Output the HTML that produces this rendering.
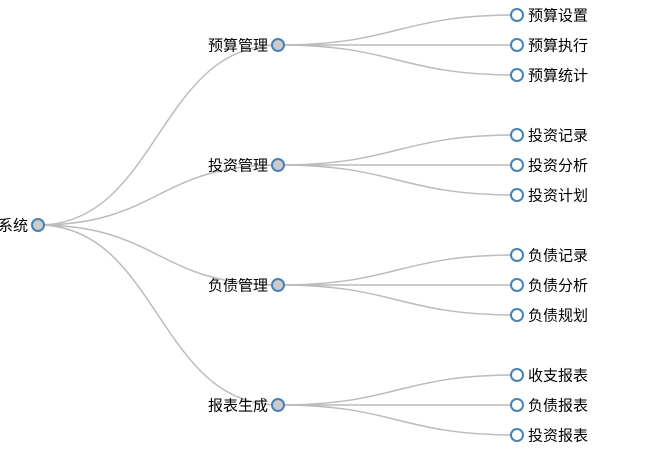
<!DOCTYPE html>
<html><head><meta charset="utf-8"><style>
html,body{margin:0;padding:0;background:#fff;}
svg{display:block;}
text{font-family:"Liberation Sans","Noto Sans CJK SC",sans-serif;font-size:15px;fill:#000;}
.l{fill:none;stroke:#bbb;stroke-width:1.5px;}
.n{stroke:steelblue;stroke-width:2px;}
</style></head><body>
<svg width="668" height="455" viewBox="0 0 668 455">
<g>
<path class="l" d="M38,225C158,225 158,45 278,45"/>
<path class="l" d="M38,225C158,225 158,165 278,165"/>
<path class="l" d="M38,225C158,225 158,285 278,285"/>
<path class="l" d="M38,225C158,225 158,405 278,405"/>
<path class="l" d="M278,45C397.5,45 397.5,15 517,15"/>
<path class="l" d="M278,45C397.5,45 397.5,45 517,45"/>
<path class="l" d="M278,45C397.5,45 397.5,75 517,75"/>
<path class="l" d="M278,165C397.5,165 397.5,135 517,135"/>
<path class="l" d="M278,165C397.5,165 397.5,165 517,165"/>
<path class="l" d="M278,165C397.5,165 397.5,195 517,195"/>
<path class="l" d="M278,285C397.5,285 397.5,255 517,255"/>
<path class="l" d="M278,285C397.5,285 397.5,285 517,285"/>
<path class="l" d="M278,285C397.5,285 397.5,315 517,315"/>
<path class="l" d="M278,405C397.5,405 397.5,375 517,375"/>
<path class="l" d="M278,405C397.5,405 397.5,405 517,405"/>
<path class="l" d="M278,405C397.5,405 397.5,435 517,435"/>
</g>
<g>
<circle class="n" cx="38" cy="225" r="6" fill="#ccc"/>
<text x="28" y="230.5" text-anchor="end">财务管理系统</text>
<circle class="n" cx="278" cy="45" r="6" fill="#ccc"/><text x="268" y="50.5" text-anchor="end">预算管理</text>
<circle class="n" cx="278" cy="165" r="6" fill="#ccc"/><text x="268" y="170.5" text-anchor="end">投资管理</text>
<circle class="n" cx="278" cy="285" r="6" fill="#ccc"/><text x="268" y="290.5" text-anchor="end">负债管理</text>
<circle class="n" cx="278" cy="405" r="6" fill="#ccc"/><text x="268" y="410.5" text-anchor="end">报表生成</text>
<circle class="n" cx="517" cy="15" r="6" fill="#fff"/><text x="528" y="20.5">预算设置</text>
<circle class="n" cx="517" cy="45" r="6" fill="#fff"/><text x="528" y="50.5">预算执行</text>
<circle class="n" cx="517" cy="75" r="6" fill="#fff"/><text x="528" y="80.5">预算统计</text>
<circle class="n" cx="517" cy="135" r="6" fill="#fff"/><text x="528" y="140.5">投资记录</text>
<circle class="n" cx="517" cy="165" r="6" fill="#fff"/><text x="528" y="170.5">投资分析</text>
<circle class="n" cx="517" cy="195" r="6" fill="#fff"/><text x="528" y="200.5">投资计划</text>
<circle class="n" cx="517" cy="255" r="6" fill="#fff"/><text x="528" y="260.5">负债记录</text>
<circle class="n" cx="517" cy="285" r="6" fill="#fff"/><text x="528" y="290.5">负债分析</text>
<circle class="n" cx="517" cy="315" r="6" fill="#fff"/><text x="528" y="320.5">负债规划</text>
<circle class="n" cx="517" cy="375" r="6" fill="#fff"/><text x="528" y="380.5">收支报表</text>
<circle class="n" cx="517" cy="405" r="6" fill="#fff"/><text x="528" y="410.5">负债报表</text>
<circle class="n" cx="517" cy="435" r="6" fill="#fff"/><text x="528" y="440.5">投资报表</text>
</g>
</svg>
</body></html>
